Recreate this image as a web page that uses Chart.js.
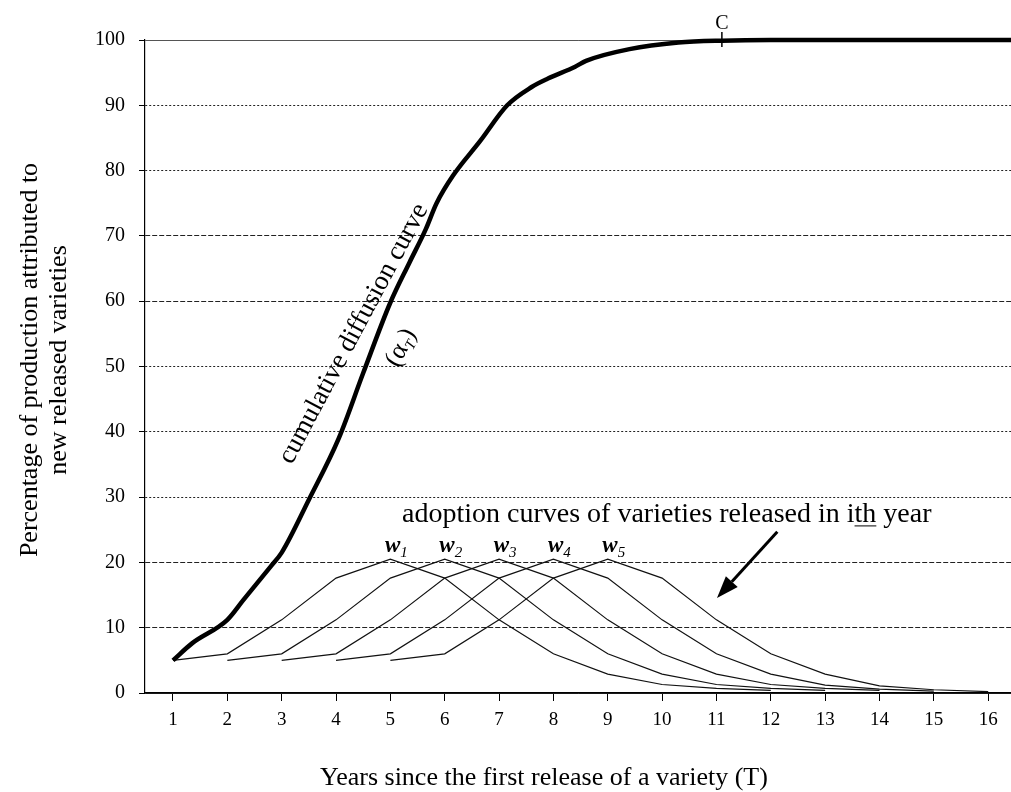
<!DOCTYPE html>
<html>
<head>
<meta charset="utf-8">
<script src="https://cdn.jsdelivr.net/npm/chart.js@4.4.1/dist/chart.umd.min.js"></script>
<style>
  body { margin: 0; background: #fff; }
  #wrap { width: 1011px; height: 792px; }
</style>
</head>
<body>
<div id="wrap"><canvas id="chart"></canvas></div>
<script>
// years on the x axis
const years = [1, 2, 3, 4, 5, 6, 7, 8, 9, 10, 11, 12, 13, 14, 15, 16];
const yTicks = [0, 10, 20, 30, 40, 50, 60, 70, 80, 90, 100];

// cumulative diffusion curve (alpha_T)
const cumX = [1, 1.35, 2, 2.3, 2.8, 3.0, 3.5, 4.05, 4.5, 5.0, 5.35, 5.65, 5.85, 6.15, 6.65, 7.15, 7.6, 7.9, 8.4, 8.6, 9.4, 10.3, 11.1, 12, 13, 14, 15, 16, 16.42];
const cumY = [5, 7.6, 11.2, 14.3, 19.4, 21.5, 29.6, 39, 49, 59.8, 65.9, 71, 75, 79.2, 84.5, 90, 92.8, 94.1, 95.9, 96.8, 98.6, 99.6, 99.9, 100, 100, 100, 100, 100, 100];

// adoption curves of the varieties released in year i
const w1 = [5, 6, 11.2, 17.6, 20.5, 17.6, 11.2, 6, 2.9, 1.3, 0.7, 0.4, null, null, null, null];
const w2 = [null, 5, 6, 11.2, 17.6, 20.5, 17.6, 11.2, 6, 2.9, 1.3, 0.7, 0.4, null, null, null];
const w3 = [null, null, 5, 6, 11.2, 17.6, 20.5, 17.6, 11.2, 6, 2.9, 1.3, 0.7, 0.4, null, null];
const w4 = [null, null, null, 5, 6, 11.2, 17.6, 20.5, 17.6, 11.2, 6, 2.9, 1.2, 0.6, 0.3, null];
const w5 = [null, null, null, null, 5, 6, 11.2, 17.6, 20.5, 17.6, 11.2, 6, 2.9, 1.1, 0.5, 0.2];
const adoption = [w1, w2, w3, w4, w5];
const peakYears = [5, 6, 7, 8, 9];

const SERIF = "'Liberation Serif', 'Times New Roman', serif";

// solid lines at 0 and 100, dashes / dots for the rest like the scan
function gridDash(v) {
  if (v === 0 || v === 100) return [];
  if (v === 10 || v === 20 || v === 60 || v === 70) return [5, 2];
  return [2, 2];
}

// draws a few text pieces one after another, centred on (0,0)
function drawRuns(ctx, runs) {
  let total = 0;
  runs.forEach(r => { ctx.font = r.font; total += ctx.measureText(r.text).width; });
  let cx = -total / 2;
  ctx.textAlign = 'left';
  runs.forEach(r => {
    ctx.font = r.font;
    ctx.fillText(r.text, cx, r.dy || 0);
    cx += ctx.measureText(r.text).width;
  });
}

const notes = {
  id: 'notes',
  afterDatasetsDraw(chart) {
    const { ctx, scales: { x, y } } = chart;
    const px = v => x.getPixelForValue(v);
    const py = v => y.getPixelForValue(v);
    ctx.save();
    ctx.fillStyle = '#000';
    ctx.strokeStyle = '#000';
    ctx.textBaseline = 'alphabetic';

    // C marker where the curve reaches the ceiling
    ctx.lineWidth = 1.5;
    ctx.beginPath();
    ctx.moveTo(px(11.1), py(100) - 8);
    ctx.lineTo(px(11.1), py(100) + 7);
    ctx.stroke();
    ctx.font = '20px ' + SERIF;
    ctx.textAlign = 'center';
    ctx.fillText('C', px(11.1), py(100) - 11);

    // label along the cumulative curve
    const ang = -62 * Math.PI / 180;
    ctx.save();
    ctx.translate(px(4.44), py(54.5));
    ctx.rotate(ang);
    ctx.font = '27px ' + SERIF;
    ctx.textAlign = 'center';
    ctx.fillText('cumulative diffusion curve', 0, 0);
    ctx.restore();

    ctx.save();
    ctx.translate(px(5.31), py(52.4));
    ctx.rotate(ang);
    drawRuns(ctx, [
      { text: '(\u03b1', font: '26px ' + SERIF },
      { text: 'T', font: 'italic 15px ' + SERIF, dy: 5 },
      { text: ')', font: '26px ' + SERIF }
    ]);
    ctx.restore();

    // w_i labels above each peak
    peakYears.forEach((yr, i) => {
      ctx.save();
      ctx.translate(px(yr) + 6, py(21.6));
      drawRuns(ctx, [
        { text: 'w', font: 'bold italic 23px ' + SERIF },
        { text: String(i + 1), font: 'italic 15px ' + SERIF, dy: 5 }
      ]);
      ctx.restore();
    });

    // adoption text with underlined "th"
    const tx = px(5.215), ty = py(26.2);
    ctx.font = '28px ' + SERIF;
    ctx.textAlign = 'left';
    const before = 'adoption curves of varieties released in i';
    ctx.fillText(before + 'th year', tx, ty);
    const u0 = tx + ctx.measureText(before).width;
    const u1 = u0 + ctx.measureText('th').width;
    ctx.lineWidth = 1;
    ctx.beginPath();
    ctx.moveTo(u0, ty + 4);
    ctx.lineTo(u1, ty + 4);
    ctx.stroke();

    // arrow pointing at the curves
    const ax0 = px(12.12), ay0 = py(24.7), ax1 = px(11.01), ay1 = py(14.55);
    const a = Math.atan2(ay1 - ay0, ax1 - ax0);
    const hl = 22, hw = 8;
    const bx = ax1 - hl * Math.cos(a), by = ay1 - hl * Math.sin(a);
    ctx.lineWidth = 3;
    ctx.beginPath();
    ctx.moveTo(ax0, ay0);
    ctx.lineTo(bx, by);
    ctx.stroke();
    ctx.beginPath();
    ctx.moveTo(ax1, ay1);
    ctx.lineTo(bx + hw * Math.sin(a), by - hw * Math.cos(a));
    ctx.lineTo(bx - hw * Math.sin(a), by + hw * Math.cos(a));
    ctx.closePath();
    ctx.fill();

    // axis titles
    ctx.font = '26px ' + SERIF;
    ctx.textAlign = 'left';
    ctx.fillText('Years since the first release of a variety (T)', 320, 785);

    ctx.textAlign = 'center';
    [['Percentage of production attributed to', 37], ['new released varieties', 66]].forEach(([t, bx2]) => {
      ctx.save();
      ctx.translate(bx2, 360);
      ctx.rotate(-Math.PI / 2);
      ctx.fillText(t, 0, 0);
      ctx.restore();
    });
    ctx.restore();
  }
};

const datasets = adoption.map((w, i) => ({
  label: 'w' + (i + 1),
  data: years.map((yr, j) => ({ x: yr, y: w[j] })),
  borderColor: '#111',
  borderWidth: 1.2,
  pointRadius: 0,
  tension: 0,
  order: 2
}));
datasets.push({
  label: 'cumulative diffusion curve',
  data: cumX.map((v, i) => ({ x: v, y: cumY[i] })),
  borderColor: '#000',
  borderWidth: 4.5,
  pointRadius: 0,
  cubicInterpolationMode: 'monotone',
  clip: 6,
  order: 1
});

new Chart(document.getElementById('chart'), {
  type: 'line',
  data: { datasets: datasets },
  plugins: [notes],
  options: {
    responsive: true,
    maintainAspectRatio: false,
    animation: false,
    layout: { padding: { top: 40, right: 0, left: 0, bottom: 0 } },
    plugins: { legend: { display: false }, tooltip: { enabled: false } },
    scales: {
      x: {
        type: 'linear',
        min: 0.485,
        max: 16.42,
        afterBuildTicks: scale => { scale.ticks = years.map(v => ({ value: v })); },
        afterFit: scale => { scale.height = 99; },
        grid: { drawOnChartArea: false, drawTicks: true, tickLength: 8, color: '#000' },
        border: { display: true, color: '#000', width: 1.2 },
        ticks: { color: '#000', padding: 8, maxRotation: 0, font: { family: SERIF, size: 19 } }
      },
      y: {
        min: 0,
        max: 100,
        afterBuildTicks: scale => { scale.ticks = yTicks.map(v => ({ value: v })); },
        afterFit: scale => { scale.width = 145; },
        grid: {
          color: ctx => (ctx.tick && ctx.tick.value === 100 ? '#555' : '#222'),
          tickColor: '#000',
          tickLength: 6,
          lineWidth: 1
        },
        border: { display: true, color: '#000', width: 1.2, dash: ctx => gridDash(ctx.tick ? ctx.tick.value : 0) },
        ticks: { color: '#000', padding: 14, font: { family: SERIF, size: 20 } }
      }
    }
  }
});
</script>
</body>
</html>
